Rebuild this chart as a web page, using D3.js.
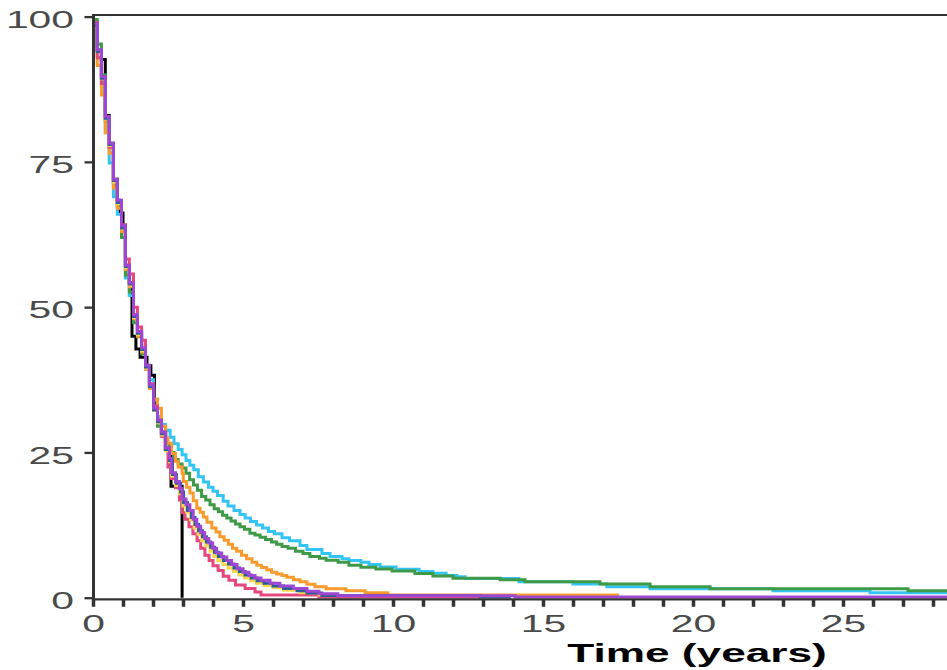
<!DOCTYPE html>
<html>
<head>
<meta charset="utf-8">
<script src="https://cdn.jsdelivr.net/npm/d3@7"></script>
<style>
  html, body { margin: 0; padding: 0; background: #fff; }
  svg { display: block; }
</style>
</head>
<body>
<svg id="chart" width="947" height="670"></svg>
<script>
// Survival (%) against time in years, step curves; each entry is [year, percent].
const yTickValues = [0, 25, 50, 75, 100];
const xTickValues = [0, 1, 2, 3, 4, 5, 6, 7, 8, 9, 10, 11, 12, 13, 14, 15, 16, 17, 18, 19, 20, 21, 22, 23, 24, 25, 26, 27, 28];
const xLabelValues = [0, 5, 10, 15, 20, 25];
const axisTitle = "Time (years)";

const blackCurve = [[0, 98.8], [0.14, 94.3], [0.28, 92.6], [0.41, 83], [0.54, 78.2], [0.68, 72], [0.81, 68.4], [0.9, 66.2], [1.0, 64.1], [1.08, 57.2], [1.21, 54.2], [1.3, 45], [1.43, 42.8], [1.57, 41.4], [1.8, 39.9], [1.93, 38.3], [2.05, 33], [2.15, 30.6], [2.28, 28.5], [2.42, 25.8], [2.55, 24.5], [2.6, 19.2], [2.97, 0]];

const cyanCurve = [[0, 99.3], [0.14, 94.3], [0.28, 89], [0.41, 80], [0.54, 74.8], [0.68, 69], [0.81, 66], [0.95, 62], [1.08, 55], [1.21, 52], [1.35, 48], [1.48, 45.5], [1.62, 42.5], [1.75, 40], [1.88, 37.5], [2.02, 34], [2.15, 31.2], [2.28, 29.8], [2.42, 28.8], [2.57, 27.6], [2.7, 26.5], [2.84, 25.5], [2.97, 24.6], [3.1, 23.6], [3.23, 22.8], [3.36, 22], [3.51, 20.8], [3.68, 19.9], [3.85, 19.0], [4.0, 18.3], [4.15, 17.6], [4.34, 16.6], [4.5, 15.8], [4.7, 15.0], [4.9, 14.3], [5.07, 13.7], [5.25, 13.1], [5.45, 12.5], [5.65, 12.0], [5.85, 11.4], [6.05, 11.0], [6.3, 10.3], [6.55, 9.8], [6.9, 9.0], [7.13, 8.3], [7.63, 7.6], [7.9, 7.1], [8.3, 6.7], [8.53, 6.4], [8.93, 6.1], [9.2, 5.7], [9.57, 5.3], [10.1, 4.9], [10.87, 4.5], [11.33, 4.2], [11.77, 3.8], [12.13, 3.6], [12.4, 3.3], [14.2, 2.75], [16.0, 2.36], [17.13, 1.9], [18.57, 1.55], [22.67, 1.2], [25.9, 0.86], [28.5, 0.86]];

const greenCurve = [[0, 99.5], [0.14, 95.3], [0.28, 90], [0.41, 82], [0.54, 77.6], [0.68, 71], [0.81, 67.5], [0.95, 62], [1.08, 55.5], [1.21, 52.6], [1.35, 47.3], [1.48, 44.9], [1.62, 42], [1.75, 39.5], [1.88, 36.5], [2.02, 33], [2.15, 29.5], [2.28, 27.8], [2.42, 26.5], [2.55, 25], [2.7, 23.8], [2.84, 23.0], [2.97, 22.3], [3.1, 21.4], [3.22, 20.3], [3.35, 19.4], [3.48, 18.5], [3.62, 17.4], [3.76, 16.8], [3.9, 16.0], [4.04, 15.3], [4.18, 14.8], [4.32, 14.2], [4.46, 13.7], [4.6, 13.2], [4.75, 12.7], [4.9, 12.2], [5.05, 11.8], [5.23, 11.1], [5.4, 10.8], [5.57, 10.4], [5.75, 10.0], [5.95, 9.6], [6.12, 9.2], [6.3, 8.8], [6.5, 8.5], [6.75, 8.0], [7.0, 7.6], [7.23, 7.1], [7.55, 6.8], [7.77, 6.45], [8.17, 6.1], [8.53, 5.6], [8.93, 5.25], [9.43, 4.95], [9.97, 4.6], [10.73, 4.15], [11.33, 3.75], [12.0, 3.35], [13.57, 3.1], [14.4, 2.75], [16.9, 2.36], [18.57, 1.9], [20.57, 1.55], [27.17, 1.2], [28.5, 1.2]];

const orangeCurve = [[0, 98.5], [0.14, 91.6], [0.28, 86.5], [0.41, 80], [0.54, 76.5], [0.68, 70.5], [0.81, 67], [0.95, 63], [1.08, 56.5], [1.21, 53.5], [1.35, 48], [1.48, 45], [1.62, 42.3], [1.75, 39.3], [1.88, 36], [2.02, 34.2], [2.15, 32.6], [2.28, 29.5], [2.42, 27.5], [2.5, 26.6], [2.62, 24.8], [2.75, 23.5], [2.84, 22.5], [2.97, 21.4], [3.01, 20.0], [3.12, 19.0], [3.23, 18.0], [3.34, 16.7], [3.46, 15.4], [3.57, 14.7], [3.68, 13.9], [3.8, 13.0], [3.96, 12.0], [4.1, 11.3], [4.23, 10.5], [4.37, 9.9], [4.51, 9.2], [4.65, 8.5], [4.79, 8.0], [4.95, 7.3], [5.12, 6.7], [5.3, 6.1], [5.46, 5.6], [5.62, 5.2], [5.79, 4.8], [5.95, 4.4], [6.12, 4.1], [6.3, 3.8], [6.46, 3.5], [6.68, 3.1], [6.9, 2.75], [7.13, 2.3], [7.4, 1.9], [7.77, 1.55], [8.43, 1.2], [9.07, 0.86], [9.83, 0.46], [17.53, 0.46]];

const pinkCurve = [[0, 99], [0.14, 92.9], [0.28, 88.5], [0.41, 82.5], [0.54, 77.5], [0.68, 71.5], [0.81, 68.2], [0.95, 64.2], [1.08, 58.3], [1.21, 55.7], [1.35, 50], [1.48, 46.6], [1.62, 44.3], [1.75, 39.4], [1.88, 36.8], [2.02, 33], [2.15, 30.5], [2.28, 27.8], [2.4, 25.5], [2.5, 22.5], [2.6, 20.5], [2.75, 18.9], [2.88, 16.8], [2.97, 14.6], [3.07, 13.5], [3.2, 12.2], [3.33, 11.0], [3.47, 9.8], [3.59, 8.5], [3.73, 7.3], [3.87, 6.4], [4.0, 5.5], [4.17, 4.7], [4.34, 3.7], [4.53, 3.0], [4.75, 2.2], [5.07, 1.6], [5.4, 1.0], [5.6, 0.46], [7.53, 0.1], [12.9, 0.1]];

const yellowCurve = [[0, 98.5], [0.14, 94], [0.28, 89.3], [0.41, 82.4], [0.54, 77.8], [0.68, 71.5], [0.81, 67.8], [0.95, 63.5], [1.08, 56.8], [1.21, 53.8], [1.35, 48.2], [1.48, 45.3], [1.62, 42.5], [1.75, 39.5], [1.88, 36.2], [2.02, 32.2], [2.15, 30.1], [2.28, 28], [2.42, 25.3], [2.55, 23.4], [2.62, 20.9], [2.75, 19.3], [2.88, 17.9], [3.0, 15.8], [3.12, 14.7], [3.25, 13.4], [3.37, 12.0], [3.5, 10.9], [3.62, 9.8], [3.76, 8.9], [3.9, 8.0], [4.03, 7.1], [4.16, 6.4], [4.33, 5.7], [4.5, 5.1], [4.68, 4.5], [4.86, 3.9], [5.05, 3.4], [5.25, 2.9], [5.45, 2.5], [5.7, 2.1], [6.0, 1.7], [6.35, 1.3], [6.9, 0.85], [7.53, 0.45], [8.2, 0.45]];

const navyCurve = [[0, 98.5], [0.14, 94], [0.28, 89.4], [0.41, 82.5], [0.54, 78], [0.68, 71.8], [0.81, 68], [0.95, 63.6], [1.08, 57], [1.21, 54], [1.35, 48.4], [1.48, 45.5], [1.62, 42.7], [1.75, 39.7], [1.88, 36.3], [2.02, 32.3], [2.15, 30.3], [2.28, 28.2], [2.42, 25.5], [2.55, 23.6], [2.65, 21.2], [2.78, 19.7], [2.92, 18.2], [3.02, 16.4], [3.15, 15.0], [3.28, 13.8], [3.4, 12.6], [3.52, 11.5], [3.65, 10.5], [3.78, 9.6], [3.92, 8.7], [4.05, 7.8], [4.18, 7.1], [4.35, 6.4], [4.52, 5.8], [4.7, 5.1], [4.88, 4.5], [5.07, 3.9], [5.27, 3.4], [5.47, 2.9], [5.7, 2.5], [6.0, 2.0], [6.35, 1.6], [6.8, 1.2], [7.13, 0.8], [7.63, 0.4], [12.9, 0.1], [13.93, 0.1]];

const purpleCurve = [[0, 98.8], [0.14, 94.3], [0.28, 89.7], [0.41, 82.8], [0.54, 78.2], [0.68, 72], [0.81, 68.4], [0.95, 64], [1.08, 57.2], [1.21, 54.2], [1.35, 48.7], [1.48, 45.8], [1.62, 43], [1.75, 40], [1.88, 36.6], [2.02, 32.6], [2.15, 30.6], [2.28, 28.5], [2.42, 25.8], [2.55, 24], [2.62, 21.5], [2.75, 20], [2.88, 18.8], [2.97, 17], [3.1, 16.0], [3.23, 15.0], [3.34, 13.5], [3.46, 12.3], [3.59, 11.2], [3.72, 10.2], [3.86, 9.4], [3.99, 8.5], [4.12, 7.7], [4.29, 7.0], [4.46, 6.4], [4.62, 5.7], [4.8, 5.0], [5.0, 4.4], [5.2, 3.8], [5.4, 3.4], [5.6, 3.0], [5.9, 2.5], [6.23, 2.0], [6.68, 1.6], [7.13, 1.1], [7.53, 0.7], [8.16, 0.35], [14.07, 0.1], [28.5, 0.1]];

// Drawing order: later curves sit on top.
const curves = [
  { data: blackCurve,  color: "#000000" },
  { data: cyanCurve,   color: "#33c4f4" },
  { data: greenCurve,  color: "#3e9a47" },
  { data: orangeCurve, color: "#f99b2c" },
  { data: pinkCurve,   color: "#e6477c" },
  { data: yellowCurve, color: "#f7d84a" },
  { data: navyCurve,   color: "#2f5e96" },
  { data: purpleCurve, color: "#9f46d3" }
];

const svg = d3.select("#chart");
const chartWidth = 947;
const plotLeft = 93, plotTop = 15;
const textStretch = 1.7;

const x = d3.scaleLinear().domain([0, 28.5]).range([plotLeft, plotLeft + 30 * 28.5]);
const y = d3.scaleLinear().domain([0, 100]).range([597.7, 16.6]);

const line = d3.line()
  .x(d => x(d[0]))
  .y(d => y(d[1]))
  .curve(d3.curveStepAfter);

svg.append("g")
  .selectAll("path")
  .data(curves)
  .join("path")
  .attr("d", d => line(d.data))
  .attr("fill", "none")
  .attr("stroke", d => d.color)
  .attr("stroke-width", 3);

const frameColor = "#333333";

// top border
svg.append("line")
  .attr("x1", plotLeft).attr("x2", chartWidth).attr("y1", plotTop).attr("y2", plotTop)
  .attr("stroke", frameColor).attr("stroke-width", 2);

// y axis
const yAxis = svg.append("g")
  .attr("transform", `translate(${plotLeft + 0.5},0)`)
  .call(d3.axisLeft(y).tickValues(yTickValues).tickSize(9).tickSizeOuter(0).tickFormat(d3.format("d")));
yAxis.select(".domain").remove();
yAxis.selectAll(".tick line").attr("stroke", frameColor).attr("stroke-width", 2.3);
yAxis.selectAll(".tick text")
  .attr("x", null).attr("dy", "0.4em")
  .attr("transform", `translate(-19.5,1) scale(${textStretch},1)`)
  .attr("font-family", "'Liberation Sans', Arial, sans-serif")
  .attr("font-size", 24)
  .attr("fill", "#4a4a4a")
  .attr("text-anchor", "end");

// x axis
const baseY = y(0) + 1.6;
const xAxis = svg.append("g")
  .attr("transform", `translate(0,${baseY})`)
  .call(d3.axisBottom(x).tickValues(xTickValues).tickSize(7.5).tickSizeOuter(0)
    .tickFormat(d => xLabelValues.includes(d) ? String(d) : ""));
xAxis.select(".domain").remove();
xAxis.selectAll(".tick line").attr("stroke", frameColor).attr("stroke-width", 3.5);
xAxis.selectAll(".tick text")
  .attr("y", null).attr("dy", null)
  .attr("transform", `translate(0,${632 - baseY}) scale(${textStretch},1)`)
  .attr("font-family", "'Liberation Sans', Arial, sans-serif")
  .attr("font-size", 24)
  .attr("fill", "#4a4a4a")
  .attr("text-anchor", "middle");

// axis lines
svg.append("line")
  .attr("x1", plotLeft - 1).attr("x2", chartWidth).attr("y1", baseY).attr("y2", baseY)
  .attr("stroke", frameColor).attr("stroke-width", 2.3);
svg.append("line")
  .attr("x1", plotLeft + 0.5).attr("x2", plotLeft + 0.5).attr("y1", plotTop - 1).attr("y2", baseY + 1)
  .attr("stroke", frameColor).attr("stroke-width", 3);

// axis title
svg.append("text")
  .attr("transform", `translate(697,662) scale(${textStretch},1)`)
  .attr("text-anchor", "middle")
  .attr("font-family", "'Liberation Sans', Arial, sans-serif")
  .attr("font-weight", "bold")
  .attr("font-size", 26)
  .attr("fill", "#000")
  .text(axisTitle);
</script>
</body>
</html>
